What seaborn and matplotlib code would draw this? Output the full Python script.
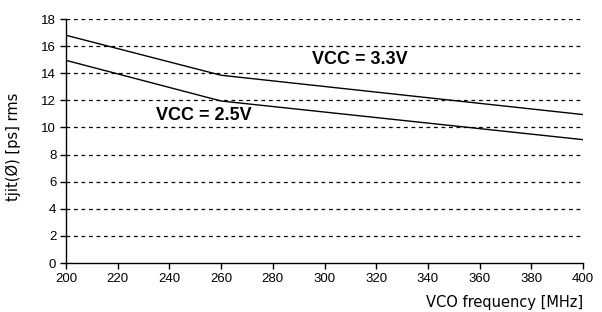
import numpy as np
import pandas as pd
import matplotlib
matplotlib.use("Agg")
import matplotlib.pyplot as plt
import seaborn as sns

freq = [200, 260, 400]
vcc33 = [16.8, 13.85, 10.95]
vcc25 = [14.95, 11.95, 9.1]
xticks = list(range(200, 401, 20))
yticks = list(range(0, 19, 2))

df = pd.DataFrame({
    "freq": freq * 2,
    "jit": vcc33 + vcc25,
    "series": ["VCC = 3.3V"] * len(freq) + ["VCC = 2.5V"] * len(freq),
})

sns.set_style("white")
plt.rcParams["font.family"] = ["Liberation Sans", "DejaVu Sans"]
plt.rcParams["text.color"] = "black"
plt.rcParams["xtick.color"] = "black"
plt.rcParams["ytick.color"] = "black"
plt.rcParams["axes.labelcolor"] = "black"

fig = plt.figure(figsize=(6.02, 3.12), dpi=100)
ax = fig.add_axes([66/602, 1-263/312, (583-66)/602, (263-19)/312])

for y in yticks[1:]:
    ax.axhline(y, color="black", lw=0.9, ls=(0, (3, 3)), zorder=1)

sns.lineplot(data=df, x="freq", y="jit", hue="series",
             palette={"VCC = 3.3V": "black", "VCC = 2.5V": "black"},
             lw=1.0, legend=False, ax=ax, zorder=3)

ax.set_xlim(200, 400)
ax.set_ylim(0, 18)
ax.set_xticks(xticks)
ax.set_yticks(yticks)
ax.tick_params(axis="both", bottom=True, left=True, direction="out", length=4,
               width=1, color="black", labelcolor="black", labelsize=9.5, pad=3)
for s in ["top", "right"]:
    ax.spines[s].set_visible(False)
for s in ["left", "bottom"]:
    ax.spines[s].set_color("black")
    ax.spines[s].set_linewidth(1.0)

ax.set_xlabel("")
ax.set_ylabel("")
fig.text(583/602, 1-302/312, "VCO frequency [MHz]", ha="right", va="center",
         fontsize=10.5, family=["DejaVu Sans"], color="black")
fig.text(13/602, 1-147/312, "tjit(Ø) [ps] rms", ha="center", va="center",
         rotation=90, fontsize=10.5, family=["DejaVu Sans"], color="black")

ax.text(313.5, 15.0, "VCC = 3.3V", ha="center", va="center", fontsize=13,
        fontweight="bold", color="black")
ax.text(253.5, 10.9, "VCC = 2.5V", ha="center", va="center", fontsize=13,
        fontweight="bold", color="black")

fig.savefig("out.png", dpi=100)
